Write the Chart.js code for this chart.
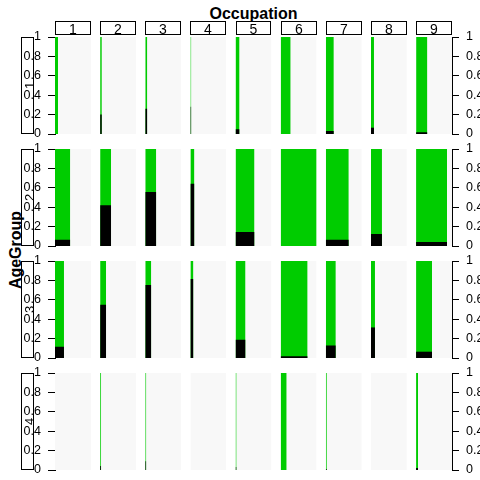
<!DOCTYPE html>
<html>
<head>
<meta charset="utf-8">
<script src="https://cdn.jsdelivr.net/npm/chart.js@4"></script>
<style>
body{margin:0;background:#fff;}
#page{position:relative;width:480px;height:480px;overflow:hidden;font-family:"Liberation Sans",Arial,sans-serif;}
#page canvas{position:absolute;left:0;}
.main-title{position:absolute;left:55px;width:397px;top:6px;line-height:16px;text-align:center;font-weight:bold;font-size:16px;}
.side-title{position:absolute;left:-34px;top:241px;width:100px;height:18px;line-height:18px;text-align:center;font-weight:bold;font-size:16px;transform:rotate(-90deg);}
</style>
</head>
<body>
<div id="page">
  <div class="main-title">Occupation</div>
  <div class="side-title">AgeGroup</div>
</div>
<script>
const occupation_labels = ['1', '2', '3', '4', '5', '6', '7', '8', '9'];
const age_group_labels = ['1', '2', '3', '4'];
const y_ticks = [0, 0.2, 0.4, 0.6, 0.8, 1];

// cell sizes (bar width) for occupations 1..9, one list per age group
const count_age1 = [30, 17, 20, 9, 40, 100, 80, 30, 113];
const count_age2 = [153, 110, 110, 40, 190, 360, 230, 110, 310];
const count_age3 = [90, 60, 60, 30, 100, 270, 100, 40, 160];
const count_age4 = [0, 10, 10, 0, 10, 60, 10, 0, 20];

// share of the black (lower) level in each cell
const black_age1 = [0, 0.2, 0.26, 0.28, 0.05, 0, 0.03, 0.065, 0.017];
const black_age2 = [0.065, 0.42, 0.557, 0.643, 0.144, 0, 0.065, 0.124, 0.041];
const black_age3 = [0.116, 0.548, 0.753, 0.815, 0.188, 0.017, 0.13, 0.315, 0.065];
const black_age4 = [0, 0.04, 0.09, 0, 0.03, 0, 0.01, 0, 0.02];

const counts_by_age = [count_age1, count_age2, count_age3, count_age4];
const black_by_age = [black_age1, black_age2, black_age3, black_age4];

const panel_tops = [37, 149, 261, 373];
const panel_height = 97;
const panel_frac = 0.795; // panel width relative to the column step

const page = document.getElementById('page');
const max_count = Math.max(...counts_by_age.flat());
const font_family = '"Liberation Sans", Arial, sans-serif';

Chart.defaults.font.family = font_family;
Chart.defaults.font.size = 12;
Chart.defaults.color = '#000';

const strip_plugin = {
    id: 'strips',
    afterDraw(chart) {
        const ctx = chart.ctx;
        const area = chart.chartArea;
        const xs = chart.scales.x;
        const row = chart.options.plugins.strips.row;
        ctx.save();
        ctx.strokeStyle = '#000';
        ctx.lineWidth = 1;
        ctx.fillStyle = '#000';
        ctx.textAlign = 'center';
        ctx.textBaseline = 'alphabetic';

        // left strip with the age group
        ctx.font = '13px ' + font_family;
        ctx.strokeRect(area.left - 33.5, area.top + 0.5, 12, area.bottom - area.top - 1);
        ctx.save();
        ctx.translate(area.left - 21.5, (area.top + area.bottom) / 2);
        ctx.rotate(-Math.PI / 2);
        ctx.fillText(age_group_labels[row], 0, 0);
        ctx.restore();

        // top strips with the occupation
        if (row === 0) {
            ctx.font = '14px ' + font_family;
            occupation_labels.forEach((lab, c) => {
                const x0 = Math.round(xs.getPixelForValue(c)) + 0.5;
                const x1 = Math.round(xs.getPixelForValue(c + panel_frac)) - 0.5;
                ctx.strokeRect(x0, area.top - 15.5, x1 - x0, 13);
                ctx.fillText(lab, (x0 + x1) / 2, area.top - 3);
            });
        }
        ctx.restore();
    }
};

function rect_dataset(x0, x1, y, color, order)
{
    return {
        data: [{x: x0, y: y}, {x: x1, y: y}],
        fill: 'origin',
        backgroundColor: color,
        borderWidth: 0,
        pointRadius: 0,
        pointHoverRadius: 0,
        order: order
    };
}

function y_axis(position, width)
{
    return {
        type: 'linear',
        position: position,
        min: 0,
        max: 1,
        afterFit: s => { s.width = width; },
        afterBuildTicks: s => { s.ticks = y_ticks.map(v => ({value: v})); },
        grid: {drawOnChartArea: false, tickLength: 7, color: '#000'},
        border: {display: true, color: '#000', width: 1},
        ticks: {
            color: '#000',
            padding: 7,
            font: {size: 12.5},
            callback: v => String(+v.toFixed(1))
        }
    };
}

function make_row_chart(row)
{
    const counts = counts_by_age[row];
    const blacks = black_by_age[row];
    const pad_top = row === 0 ? panel_tops[0] : 22;
    const pad_bottom = 22;

    const canvas = document.createElement('canvas');
    canvas.width = 480;
    canvas.height = pad_top + panel_height + pad_bottom;
    canvas.style.top = (panel_tops[row] - pad_top) + 'px';
    page.appendChild(canvas);

    let datasets = [];
    occupation_labels.forEach((lab, c) => {
        const w = counts[c] / max_count * panel_frac;
        datasets.push(rect_dataset(c, c + panel_frac, 1, '#F8F8F8', 2));
        if (w > 0) {
            datasets.push(rect_dataset(c, c + w, 1, '#00CC00', 1));
            if (blacks[c] > 0)
                datasets.push(rect_dataset(c, c + w, blacks[c], '#000000', 0));
        }
    });

    return new Chart(canvas.getContext('2d'), {
        type: 'line',
        data: {datasets: datasets},
        options: {
            responsive: false,
            animation: false,
            events: [],
            devicePixelRatio: 1,
            layout: {padding: {top: pad_top, bottom: pad_bottom, left: 0, right: 0}},
            scales: {
                x: {type: 'linear', display: false, min: 0, max: occupation_labels.length - 1 + panel_frac},
                y: y_axis('left', 55),
                y2: y_axis('right', 28)
            },
            plugins: {
                legend: {display: false},
                tooltip: {enabled: false},
                strips: {row: row}
            }
        },
        plugins: [strip_plugin]
    });
}

age_group_labels.forEach((g, r) => make_row_chart(r));
</script>
</body>
</html>
